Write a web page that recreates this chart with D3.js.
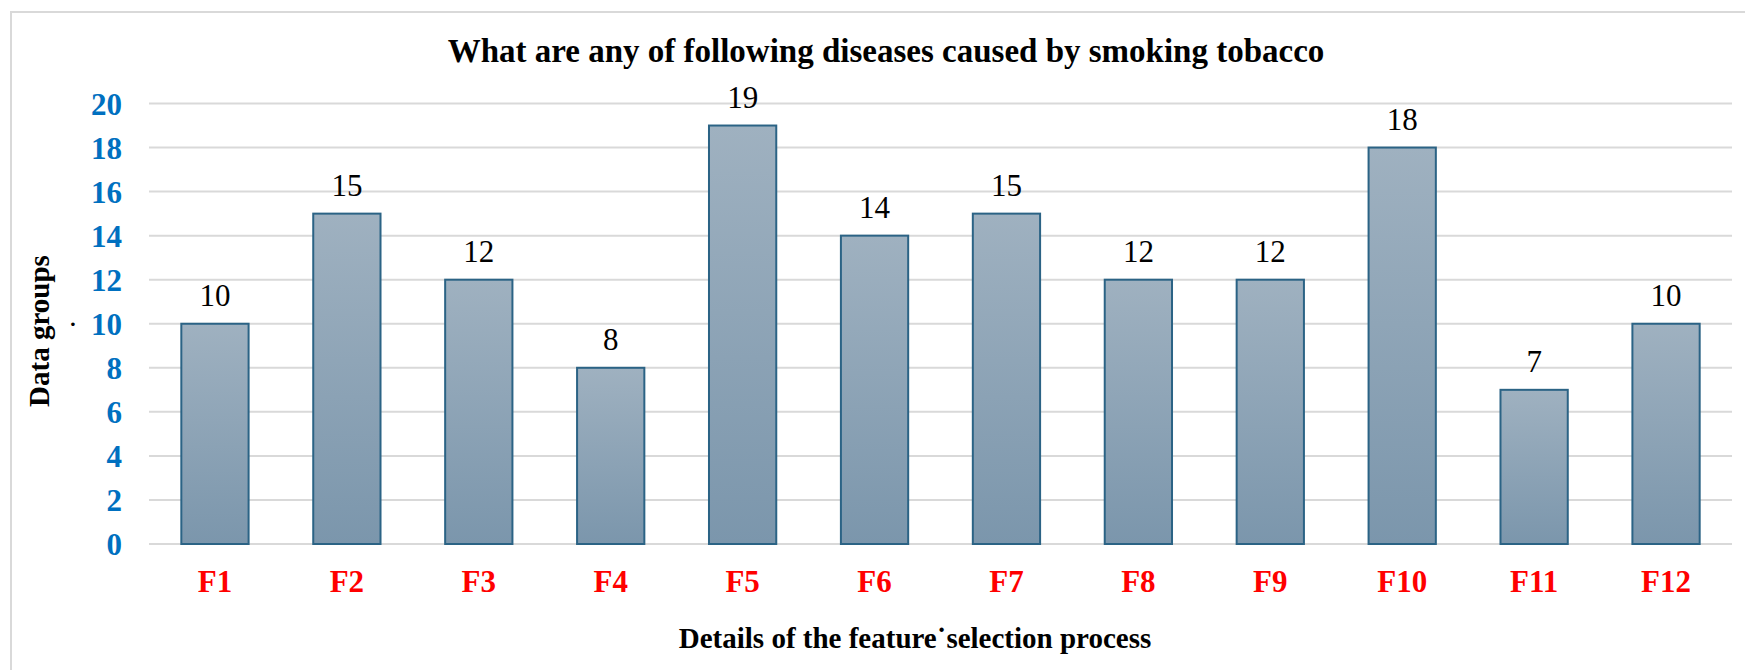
<!DOCTYPE html>
<html>
<head>
<meta charset="utf-8">
<script src="https://cdn.jsdelivr.net/npm/d3@7/dist/d3.min.js"></script>
<style>
  html, body { margin: 0; padding: 0; background: #ffffff; }
  svg { display: block; }
</style>
</head>
<body>
<svg id="chart" width="1745" height="670"></svg>
<script>
// Chart data
const categories = ["F1", "F2", "F3", "F4", "F5", "F6", "F7", "F8", "F9", "F10", "F11", "F12"];
const counts = [10, 15, 12, 8, 19, 14, 15, 12, 12, 18, 7, 10];
const yTicks = [0, 2, 4, 6, 8, 10, 12, 14, 16, 18, 20];

const titleText = "What are any of following diseases caused by smoking tobacco";
const xTitleText = "Details of the feature\u02D9selection process";
const yTitleText = "Data groups";

const SERIF = "'Liberation Serif', 'Times New Roman', serif";
const width = 1745, height = 670;
const plot = { left: 149, right: 1732, top: 103.5, bottom: 544 };

const svg = d3.select("#chart");

// Outer chart frame
svg.append("rect")
  .attr("x", 11).attr("y", 12)
  .attr("width", width + 20).attr("height", height + 20)
  .attr("fill", "#ffffff")
  .attr("stroke", "#d9d9d9").attr("stroke-width", 2);

const x = d3.scaleBand()
  .domain(categories)
  .range([plot.left, plot.right])
  .paddingInner(0.49)
  .paddingOuter(0.245);

const y = d3.scaleLinear()
  .domain([0, 20])
  .range([plot.bottom, plot.top]);

// Bar gradient
const defs = svg.append("defs");
const grad = defs.append("linearGradient")
  .attr("id", "barFill")
  .attr("x1", 0).attr("y1", 0).attr("x2", 0).attr("y2", 1);
grad.append("stop").attr("offset", "0%").attr("stop-color", "#9fb1c0");
grad.append("stop").attr("offset", "100%").attr("stop-color", "#7b96ac");

// Horizontal gridlines
svg.append("g")
  .selectAll("line")
  .data(yTicks)
  .join("line")
  .attr("x1", plot.left).attr("x2", plot.right)
  .attr("y1", d => y(d)).attr("y2", d => y(d))
  .attr("stroke", "#d9d9d9")
  .attr("stroke-width", 2);

// Y axis tick labels
const yAxis = d3.axisLeft(y).tickValues(yTicks).tickSize(0).tickPadding(0);
const yAxisG = svg.append("g")
  .attr("transform", `translate(${plot.left - 27},0)`)
  .call(yAxis);
yAxisG.select(".domain").remove();
yAxisG.selectAll("text")
  .style("font-family", SERIF)
  .style("font-size", "31px")
  .style("font-weight", "bold")
  .attr("fill", "#0070c0")
  .attr("dy", "0.34em");

// Bars
svg.append("g")
  .selectAll("rect")
  .data(counts)
  .join("rect")
  .attr("x", (d, i) => x(categories[i]))
  .attr("y", d => y(d))
  .attr("width", x.bandwidth())
  .attr("height", d => y(0) - y(d))
  .attr("fill", "url(#barFill)")
  .attr("stroke", "#2b6385")
  .attr("stroke-width", 2);

// Value labels
svg.append("g")
  .selectAll("text")
  .data(counts)
  .join("text")
  .attr("x", (d, i) => x(categories[i]) + x.bandwidth() / 2)
  .attr("y", d => y(d) - 18)
  .attr("text-anchor", "middle")
  .style("font-family", SERIF)
  .style("font-size", "31px")
  .attr("fill", "#000000")
  .text(d => d);

// X axis category labels
const xAxis = d3.axisBottom(x).tickSize(0).tickPadding(0);
const xAxisG = svg.append("g")
  .attr("transform", `translate(0,${plot.bottom})`)
  .call(xAxis);
xAxisG.select(".domain").remove();
xAxisG.selectAll("text")
  .style("font-family", SERIF)
  .style("font-size", "31px")
  .style("font-weight", "bold")
  .attr("fill", "#ff0000")
  .attr("dy", null)
  .attr("y", 48);

// Chart title
svg.append("text")
  .attr("x", 886).attr("y", 62)
  .attr("text-anchor", "middle")
  .style("font-family", SERIF)
  .style("font-size", "33px")
  .style("font-weight", "bold")
  .text(titleText);

// X axis title
svg.append("text")
  .attr("x", 915).attr("y", 648)
  .attr("text-anchor", "middle")
  .style("font-family", SERIF)
  .style("font-size", "29px")
  .style("font-weight", "bold")
  .text(xTitleText);

// Y axis title
svg.append("text")
  .attr("transform", "translate(49,331) rotate(-90)")
  .attr("text-anchor", "middle")
  .style("font-family", SERIF)
  .style("font-size", "29px")
  .style("font-weight", "bold")
  .text(yTitleText);

// Small stray mark beside the y axis title
svg.append("text")
  .attr("x", 73).attr("y", 331)
  .attr("text-anchor", "middle")
  .style("font-family", SERIF)
  .style("font-size", "22px")
  .style("font-weight", "bold")
  .text("\u00B7");
</script>
</body>
</html>
